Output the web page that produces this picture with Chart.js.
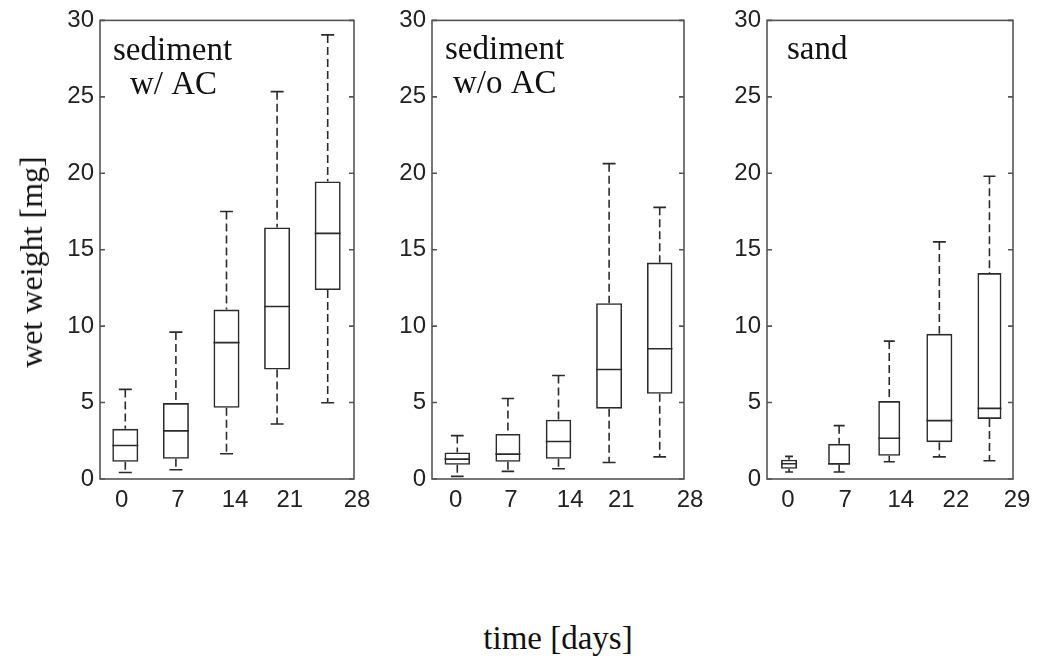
<!DOCTYPE html>
<html>
<head>
<meta charset="utf-8">
<script src="https://cdn.jsdelivr.net/npm/chart.js@4.4.1/dist/chart.umd.min.js"></script>
<style>
  body { margin: 0; background: #fff; }
  #wrap { position: relative; width: 1039px; height: 661px; overflow: hidden; }
  #wrap canvas { position: absolute; top: 0; }
  .ttl { position: absolute; font-family: 'Liberation Serif', 'Times New Roman', serif; color: #111; white-space: nowrap; line-height: 1; }
</style>
</head>
<body>
<div id="wrap">
  <canvas id="c1" width="380" height="530" style="left:0px"></canvas>
  <canvas id="c2" width="330" height="530" style="left:380px"></canvas>
  <canvas id="c3" width="329" height="530" style="left:710px"></canvas>
  <div class="ttl" style="font-size:32px;left:31px;top:262px;transform:translate(-50%,-50%) rotate(-90deg)">wet weight [mg]</div>
  <div class="ttl" style="font-size:33px;left:558px;top:622px;transform:translateX(-50%)">time [days]</div>
</div>
<script>
// tick labels (days) under each panel
const daysAC = ['0', '7', '14', '21', '28'];
const daysNoAC = ['0', '7', '14', '21', '28'];
const daysSand = ['0', '7', '14', '22', '29'];

// sediment w/ AC
const acMin = [0.43, 0.61, 1.65, 3.60, 4.99];
const acQ1 = [1.13, 1.32, 4.66, 7.16, 12.36];
const acMed = [2.19, 3.15, 8.92, 11.28, 16.07];
const acQ3 = [3.28, 4.97, 11.08, 16.46, 19.46];
const acMax = [5.86, 9.61, 17.50, 25.34, 29.05];

// sediment w/o AC
const noacMin = [0.17, 0.50, 0.67, 1.08, 1.45];
const noacQ1 = [0.93, 1.13, 1.32, 4.60, 5.57];
const noacMed = [1.30, 1.63, 2.45, 7.16, 8.52];
const noacQ3 = [1.74, 2.95, 3.88, 11.50, 14.16];
const noacMax = [2.84, 5.27, 6.77, 20.63, 17.77];

// sand
const sandMin = [0.46, 0.46, 1.13, 1.45, 1.19];
const sandQ1 = [0.67, 0.93, 1.52, 2.41, 3.93];
const sandMed = [1.00, 1.00, 2.67, 3.82, 4.62];
const sandQ3 = [1.26, 2.30, 5.10, 9.50, 13.47];
const sandMax = [1.48, 3.49, 9.02, 15.51, 19.80];

const BOX_COLOR = '#2b2b2b';
const AXIS_COLOR = '#555';
const tickFont = { family: "'Liberation Sans', Arial, sans-serif", size: 24 };
const noteFont = "33px 'Liberation Serif', 'Times New Roman', serif";

// draws whiskers, caps, medians, the frame, inner ticks and the panel note
const boxExtras = {
  id: 'boxExtras',
  afterDatasetsDraw(chart, args, o) {
    const { ctx, chartArea: a, scales: { x, y } } = chart;
    ctx.save();
    ctx.strokeStyle = BOX_COLOR;
    ctx.lineWidth = 1.6;
    o.med.forEach((m, i) => {
      const cx = x.getPixelForValue(i + 1);
      const hw = o.boxW[i] / 2;
      const cw = o.boxW[i] / 4;
      // whiskers
      ctx.setLineDash([8, 4]);
      ctx.beginPath();
      ctx.moveTo(cx, y.getPixelForValue(o.max[i]));
      ctx.lineTo(cx, y.getPixelForValue(o.q3[i]));
      ctx.moveTo(cx, y.getPixelForValue(o.q1[i]));
      ctx.lineTo(cx, y.getPixelForValue(o.min[i]));
      ctx.stroke();
      ctx.setLineDash([]);
      // caps + median
      ctx.beginPath();
      const yt = y.getPixelForValue(o.max[i]);
      const yb = y.getPixelForValue(o.min[i]);
      const ym = y.getPixelForValue(m);
      ctx.moveTo(cx - cw, yt); ctx.lineTo(cx + cw, yt);
      ctx.moveTo(cx - cw, yb); ctx.lineTo(cx + cw, yb);
      ctx.moveTo(cx - hw, ym); ctx.lineTo(cx + hw, ym);
      ctx.stroke();
    });
    // frame and inward ticks
    ctx.strokeStyle = AXIS_COLOR;
    ctx.lineWidth = 1.6;
    ctx.strokeRect(a.left, a.top, a.right - a.left, a.bottom - a.top);
    ctx.beginPath();
    y.ticks.forEach(t => {
      const py = y.getPixelForValue(t.value);
      ctx.moveTo(a.left, py); ctx.lineTo(a.left + 5, py);
      ctx.moveTo(a.right, py); ctx.lineTo(a.right - 5, py);
    });
    ctx.stroke();
    // note text
    ctx.fillStyle = '#111';
    ctx.font = noteFont;
    ctx.textBaseline = 'alphabetic';
    o.notes.forEach(n => ctx.fillText(n.text, a.left + n.dx, n.y));
    ctx.restore();
  }
};

function makePanel(id, p) {
  const datasets = p.q1.map((q, i) => ({
    data: [{ x: i + 1, y: [q, p.q3[i]] }],
    grouped: false,
    maxBarThickness: p.boxW[i],
    backgroundColor: 'rgba(0,0,0,0)',
    borderColor: BOX_COLOR,
    borderWidth: 1.6,
    borderSkipped: false,
  }));

  return new Chart(document.getElementById(id), {
    type: 'bar',
    data: { datasets },
    options: {
      responsive: false,
      animation: false,
      events: [],
      layout: { padding: { top: 18.5, right: p.padRight, left: 0, bottom: 0 } },
      plugins: {
        legend: { display: false },
        tooltip: { enabled: false },
        boxExtras: p,
      },
      scales: {
        x: {
          type: 'linear',
          min: p.xMin,
          max: p.xMax,
          offset: false,
          grid: { display: false, offset: false, drawTicks: false },
          border: { display: false },
          afterBuildTicks: s => { s.ticks = p.tickPos.map(v => ({ value: v })); },
          afterFit: s => { s.height = 51; },
          ticks: {
            autoSkip: false,
            maxRotation: 0,
            padding: 7,
            color: '#222',
            font: tickFont,
            callback: (v, i) => p.labels[i],
          },
        },
        y: {
          min: 0,
          max: 30,
          grid: { display: false, drawTicks: false },
          border: { display: false },
          afterFit: s => { s.width = p.yWidth; },
          ticks: { stepSize: 5, padding: 6, color: '#222', font: tickFont },
        },
      },
    },
    plugins: [boxExtras],
  });
}

makePanel('c1', {
  labels: daysAC, min: acMin, q1: acQ1, med: acMed, q3: acQ3, max: acMax,
  xMin: 0.5, xMax: 5.52, yWidth: 100, padRight: 26,
  boxW: [26, 26, 26, 26, 26],
  tickPos: [0.93, 2.04, 3.17, 4.25, 5.58],
  notes: [{ text: 'sediment', dx: 13, y: 60 }, { text: 'w/ AC', dx: 30, y: 94 }],
});

makePanel('c2', {
  labels: daysNoAC, min: noacMin, q1: noacQ1, med: noacMed, q3: noacQ3, max: noacMax,
  xMin: 0.5, xMax: 5.48, yWidth: 52, padRight: 26,
  boxW: [25.5, 25, 25.5, 26, 25.5],
  tickPos: [0.97, 2.06, 3.23, 4.24, 5.6],
  notes: [{ text: 'sediment', dx: 13, y: 59 }, { text: 'w/o AC', dx: 21, y: 93 }],
});

makePanel('c3', {
  labels: daysSand, min: sandMin, q1: sandQ1, med: sandMed, q3: sandQ3, max: sandMax,
  xMin: 0.56, xMax: 5.47, yWidth: 57, padRight: 26,
  boxW: [16, 22, 22, 26, 24],
  tickPos: [0.98, 2.12, 3.23, 4.33, 5.55],
  notes: [{ text: 'sand', dx: 20, y: 58.5 }],
});
</script>
</body>
</html>
